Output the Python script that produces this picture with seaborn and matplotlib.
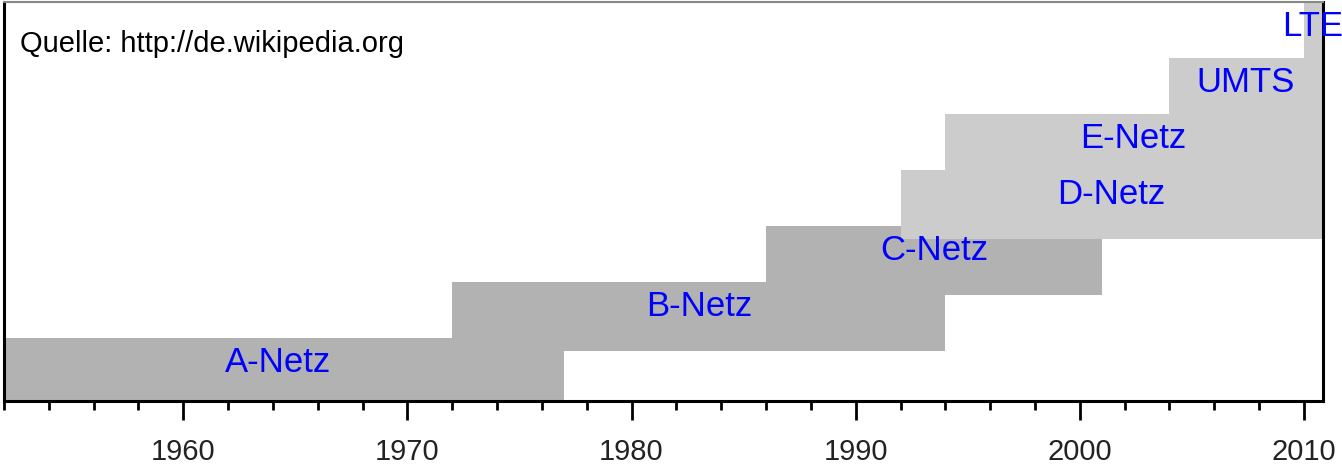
import matplotlib
matplotlib.use("Agg")
import matplotlib.pyplot as plt
import seaborn as sns
from matplotlib.ticker import MultipleLocator

# Mobilfunknetze in Deutschland (Zeitraum der Nutzung)
systems = ['A-Netz', 'B-Netz', 'C-Netz', 'D-Netz', 'E-Netz', 'UMTS', 'LTE']
start_year = [1951.5, 1972, 1986, 1992, 1994, 2004, 2010]
end_year = [1977, 1994, 2001, 2010.8, 2010.8, 2010.8, 2010.8]
generation = ['analog', 'analog', 'analog', 'digital', 'digital', 'digital', 'digital']

palette = {'analog': '#b2b2b2', 'digital': '#cccccc'}

sns.set_style("ticks")
plt.rcParams['font.family'] = ['Liberation Sans', 'DejaVu Sans']

fig = plt.figure(figsize=(13.42, 4.68), dpi=100)
ax = fig.add_axes([4 / 1342, 67 / 468, 1319 / 1342, 399 / 468])

bar_h = 1.225
for lane, (name, s, e, g) in enumerate(zip(systems, start_year, end_year, generation)):
    ax.barh(lane - 0.1, e - s, left=s, height=bar_h, align='edge',
            color=palette[g], linewidth=0)
    top = lane - 0.1 + bar_h
    ax.text((s + e) / 2, top - 0.6, name, ha='center', va='baseline',
            color='blue', fontsize=25, clip_on=False, zorder=5)

ax.text(0.0121, 0.8747, 'Quelle: http://de.wikipedia.org', transform=ax.transAxes,
        fontsize=21, color='black', va='baseline', ha='left')

ax.set_xlim(1952, 2010.85)
ax.set_ylim(0, 7.125)
ax.set_yticks([])
ax.xaxis.set_major_locator(MultipleLocator(10))
ax.xaxis.set_minor_locator(MultipleLocator(2))
ax.tick_params(axis='x', which='major', direction='out', length=13.5, width=2,
               labelsize=21, labelcolor='#222222', color='black', pad=13)
ax.tick_params(axis='x', which='minor', direction='out', length=6.5, width=2,
               color='black')

for side in ['left', 'right', 'bottom']:
    ax.spines[side].set_color('black')
    ax.spines[side].set_linewidth(2.2)
ax.spines['top'].set_color('#888888')
ax.spines['top'].set_linewidth(1.5)

fig.savefig('out.png', dpi=100, facecolor='white')
